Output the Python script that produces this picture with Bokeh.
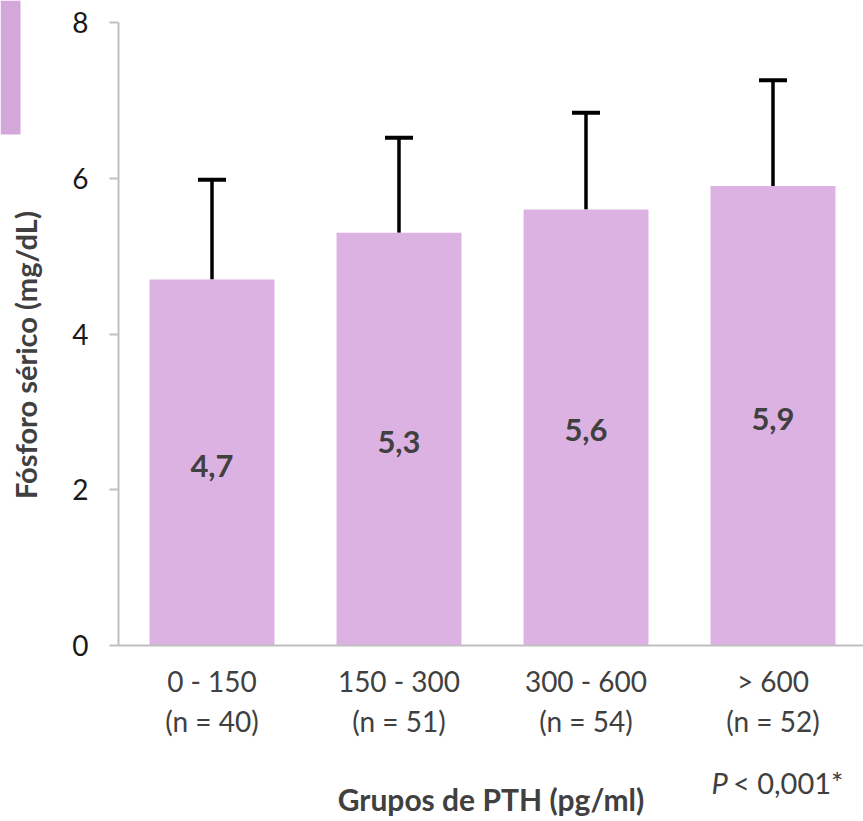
from bokeh.plotting import figure
from bokeh.models import (ColumnDataSource, FixedTicker, Range1d, Whisker, TeeHead)
from bokeh.embed import file_html
from bokeh.resources import INLINE
from bokeh.core.properties import value

# ---- data ----
groups = ["0 - 150", "150 - 300", "300 - 600", "> 600"]
n_labels = ["(n = 40)", "(n = 51)", "(n = 54)", "(n = 52)"]
means = [4.7, 5.3, 5.6, 5.9]
sds = [1.28, 1.22, 1.24, 1.36]
value_labels = ["4,7", "5,3", "5,6", "5,9"]
y_ticks = [0, 2, 4, 6, 8]
p_text_italic = "P"
p_text_rest = "< 0,001*"

xs = list(range(len(groups)))
src = ColumnDataSource(dict(
    x=xs,
    mean=means,
    upper=[m + s for m, s in zip(means, sds)],
    half=[m / 2 for m in means],
    lab=value_labels,
))

BAR = "#DCB2E3"
TXT = "#404040"
AX = "#BFBFBF"
FONT = "Lato"
NB = "\u00a0"

# The frame covers the whole canvas; axes are pinned at x=-0.5 / y=0 so that
# text below and left of the axes can be drawn as ordinary glyphs.
p = figure(width=863, height=821, output_backend="svg", toolbar_location=None,
           x_range=Range1d(-1.131, 3.484), y_range=Range1d(-2.26, 8.283),
           min_border=0)
p.outline_line_color = None
p.xgrid.grid_line_color = None
p.ygrid.grid_line_color = None
p.background_fill_color = "white"
p.border_fill_color = "white"

p.vbar(x="x", top="mean", width=0.668, source=src, fill_color=BAR, line_color=None)

w = Whisker(source=src, base="x", lower="mean", upper="upper",
            line_color="black", line_width=3.5,
            upper_head=TeeHead(size=28, line_width=4, line_color="black"),
            lower_head=None)
p.add_layout(w)

p.text(x="x", y="half", text="lab", source=src, text_align="center",
       text_baseline="middle", text_font=value(FONT), text_font_style="bold",
       text_font_size="31px", text_color=TXT, y_offset=3)

# y axis
p.yaxis.fixed_location = -0.5
p.yaxis.bounds = (0, 8)
p.yaxis.ticker = FixedTicker(ticks=y_ticks)
p.yaxis.axis_line_color = AX
p.yaxis.axis_line_width = 2
p.yaxis.major_tick_line_color = AX
p.yaxis.major_tick_line_width = 2
p.yaxis.major_tick_out = 9
p.yaxis.major_tick_in = 0
p.yaxis.minor_tick_line_color = None
p.yaxis.major_label_text_font = FONT
p.yaxis.major_label_text_font_size = "28px"
p.yaxis.major_label_text_color = "#1a1a1a"
p.yaxis.major_label_standoff = 21
p.yaxis.axis_label = "Fósforo sérico (mg/dL)" + NB * 6
p.yaxis.axis_label_text_font = FONT
p.yaxis.axis_label_text_font_style = "bold"
p.yaxis.axis_label_text_font_size = "29px"
p.yaxis.axis_label_text_color = TXT
p.yaxis.axis_label_standoff = 26

# x axis
p.xaxis.fixed_location = 0
p.xaxis.bounds = (-0.5, 3.484)
p.xaxis.ticker = FixedTicker(ticks=xs)
p.xaxis.major_label_overrides = {i: f"{g}\n{n}" for i, (g, n) in enumerate(zip(groups, n_labels))}
p.xaxis.axis_line_color = AX
p.xaxis.axis_line_width = 2
p.xaxis.major_tick_out = 0
p.xaxis.major_tick_in = 0
p.xaxis.minor_tick_line_color = None
p.xaxis.major_label_text_font = FONT
p.xaxis.major_label_text_font_size = "28px"
p.xaxis.major_label_text_color = TXT
p.xaxis.major_label_text_line_height = 1.2
p.xaxis.major_label_standoff = 18
p.xaxis.axis_label = "Grupos de PTH (pg/ml)"
p.xaxis.axis_label_text_font = FONT
p.xaxis.axis_label_text_font_style = "bold"
p.xaxis.axis_label_text_font_size = "30px"
p.xaxis.axis_label_text_color = TXT
p.xaxis.axis_label_standoff = 40

# p-value note under the right end of the axis
p.text(x=[2.671], y=[-1.76], text=[p_text_italic], text_font=value(FONT),
       text_font_style="italic", text_font_size="29px", text_color=TXT,
       text_align="left", text_baseline="middle")
p.text(x=[2.786], y=[-1.76], text=[p_text_rest], text_font=value(FONT),
       text_font_size="29px", text_color=TXT,
       text_align="left", text_baseline="middle")

# colour swatch at the top-left corner
p.quad(left=[-1.131], right=[-1.024], top=[8.283], bottom=[6.561],
       fill_color="#D3A7D9", line_color=None)

open("out.html", "w").write(file_html(p, INLINE))
